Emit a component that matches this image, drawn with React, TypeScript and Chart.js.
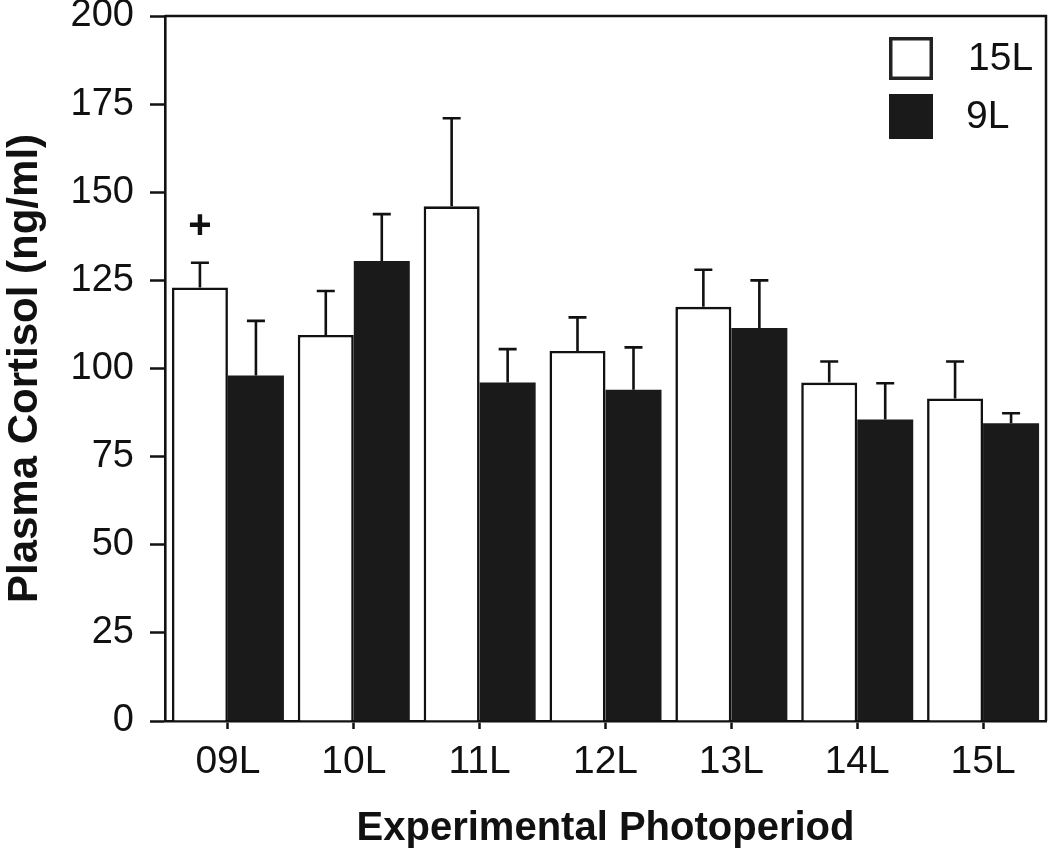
import React, { useEffect, useRef } from "react";
import { Chart, registerables } from "chart.js";

Chart.register(...registerables);

const categories = ["09L", "10L", "11L", "12L", "13L", "14L", "15L"];
const series15LMean = [123, 109.5, 146, 105, 117.5, 96, 91.5];
const series15LErr = [7, 12.5, 25, 9.5, 10.5, 6, 10.5];
const series9LMean = [98, 130.5, 96, 94, 111.5, 85.5, 84.5];
const series9LErr = [15.5, 13.3, 9.5, 12, 13.5, 10.3, 2.8];
const seriesNames = ["15L", "9L"];
const yTickValues = [0, 25, 50, 75, 100, 125, 150, 175, 200];
// significance markers: dataset index, category index, value position, symbol
const markerDataset = [0];
const markerIndex = [0];
const markerValue = [140.5];
const markerText = ["+"];

const FONT = "'Liberation Sans', Arial, Helvetica, sans-serif";
const INK = "#111";
const DARK = "#1a1a1a";

const errors = [series15LErr, series9LErr];
const means = [series15LMean, series9LMean];

const decorPlugin = {
  id: "decor",
  afterDatasetsDraw(chart: any) {
    const ctx = chart.ctx;
    const yScale = chart.scales.y;
    const area = chart.chartArea;
    ctx.save();
    // error bars (upward only)
    ctx.strokeStyle = INK;
    ctx.lineWidth = 2.6;
    chart.data.datasets.forEach((ds: any, di: number) => {
      const meta = chart.getDatasetMeta(di);
      meta.data.forEach((el: any, i: number) => {
        const top = yScale.getPixelForValue(means[di][i] + errors[di][i]);
        const x = el.x;
        ctx.beginPath();
        ctx.moveTo(x, el.y);
        ctx.lineTo(x, top);
        ctx.moveTo(x - 9, top);
        ctx.lineTo(x + 9, top);
        ctx.stroke();
      });
    });
    // markers
    ctx.fillStyle = INK;
    ctx.font = `bold 40px ${FONT}`;
    ctx.textAlign = "center";
    ctx.textBaseline = "middle";
    markerText.forEach((t, k) => {
      const el = chart.getDatasetMeta(markerDataset[k]).data[markerIndex[k]];
      ctx.fillText(t, el.x, yScale.getPixelForValue(markerValue[k]) + 1);
    });
    // frame top and right
    ctx.strokeStyle = INK;
    ctx.lineWidth = 2.5;
    ctx.beginPath();
    ctx.moveTo(area.left, area.top);
    ctx.lineTo(area.right, area.top);
    ctx.lineTo(area.right, area.bottom);
    ctx.stroke();
    // legend inside top-right
    const bx = area.right - 157;
    const boxes = [
      { y: area.top + 21, h: 43 },
      { y: area.top + 78, h: 45 },
    ];
    chart.data.datasets.forEach((ds: any, di: number) => {
      const b = boxes[di];
      ctx.fillStyle = ds.backgroundColor;
      ctx.fillRect(bx, b.y, 44, b.h);
      if (di === 0) {
        ctx.lineWidth = 3.5;
        ctx.strokeStyle = "#222";
        ctx.strokeRect(bx + 1.75, b.y + 1.75, 40.5, b.h - 3.5);
      }
      ctx.fillStyle = INK;
      ctx.font = `39px ${FONT}`;
      ctx.textAlign = "left";
      ctx.textBaseline = "middle";
      ctx.fillText(ds.label, bx + 79 - (di === 1 ? 2 : 0), b.y + b.h / 2 + 1);
    });
    ctx.restore();
  },
};

export default function App() {
  const ref = useRef<HTMLCanvasElement | null>(null);
  useEffect(() => {
    if (!ref.current) return;
    const chart = new Chart(ref.current, {
      type: "bar",
      data: {
        labels: categories,
        datasets: [
          {
            label: seriesNames[0],
            data: series15LMean,
            backgroundColor: "#ffffff",
            borderColor: INK,
            borderWidth: 2.6,
            categoryPercentage: 0.89,
            barPercentage: 1.0,
          },
          {
            label: seriesNames[1],
            data: series9LMean,
            backgroundColor: DARK,
            borderColor: DARK,
            borderWidth: 0,
            categoryPercentage: 0.89,
            barPercentage: 1.0,
          },
        ],
      },
      options: {
        responsive: false,
        animation: false,
        devicePixelRatio: 1,
        layout: { padding: { top: 16, right: 4, left: 0, bottom: 0 } },
        plugins: {
          legend: { display: false },
          tooltip: { enabled: false },
        },
        scales: {
          x: {
            afterFit: (s: any) => {
              s.height = 132;
              s.paddingLeft = 0;
              s.paddingRight = 0;
            },
            grid: {
              display: true,
              drawOnChartArea: false,
              drawTicks: true,
              offset: false,
              tickLength: 8,
              tickWidth: 2.5,
              tickColor: INK,
            },
            border: { display: true, color: INK, width: 2.6 },
            ticks: {
              color: INK,
              font: { family: FONT, size: 39 },
              padding: 10,
            },
            title: {
              display: true,
              text: "Experimental Photoperiod",
              color: INK,
              font: { family: FONT, size: 40, weight: "bold" },
              padding: { top: 0, bottom: 0 },
            },
          },
          y: {
            min: 0,
            max: 200,
            afterFit: (s: any) => {
              s.width = 165;
              s.paddingTop = 0;
              s.paddingBottom = 0;
            },
            afterBuildTicks: (s: any) => {
              s.ticks = yTickValues.map((v) => ({ value: v }));
            },
            grid: {
              display: true,
              drawOnChartArea: false,
              drawTicks: true,
              tickLength: 15,
              tickWidth: 2.5,
              tickColor: INK,
            },
            border: { display: true, color: INK, width: 2.6 },
            ticks: {
              color: INK,
              font: { family: FONT, size: 38 },
              padding: 16,
            },
            title: {
              display: true,
              text: "Plasma Cortisol (ng/ml)",
              color: INK,
              font: { family: FONT, size: 42, weight: "bold" },
              padding: { top: 0, bottom: 0 },
            },
          },
        },
      },
      plugins: [decorPlugin],
    } as any);
    return () => chart.destroy();
  }, []);
  return (
    <div style={{ position: "absolute", left: 0, top: 0, width: 1050, height: 853, background: "#fff" }}>
      <canvas ref={ref} width={1050} height={853} />
    </div>
  );
}
